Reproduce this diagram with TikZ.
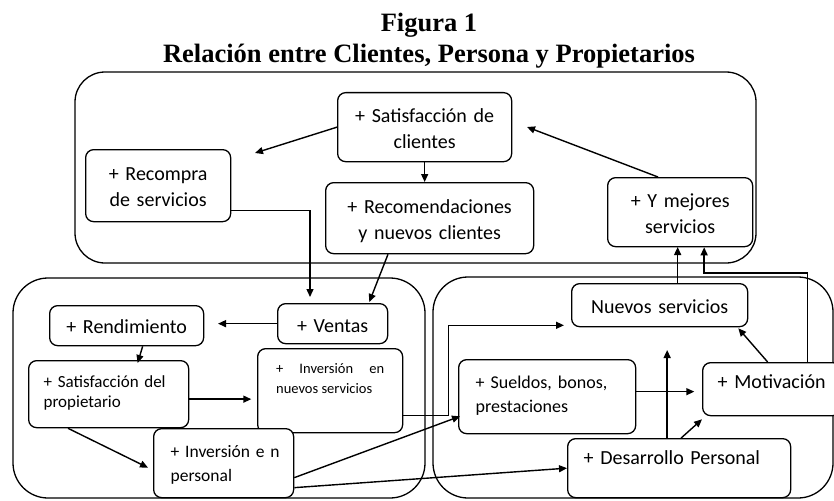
\documentclass[tikz,border=0pt]{standalone}
\usepackage{fontspec}
\setmainfont{Carlito}
\newfontfamily\titlefont{Liberation Serif}
\usetikzlibrary{arrows.meta,calc}
\begin{document}
\begin{tikzpicture}[x=1pt,y=-1pt,
  box/.style={draw, line width=1.3pt, rounded corners=8pt, fill=white, inner sep=0pt, anchor=north west},
  grp/.style={draw, line width=1.3pt},
  arr/.style={line width=1.4pt, -{Triangle[length=8pt,width=7pt]}},
  ttl/.style={font=\titlefont\bfseries\fontsize{26.5}{31}\selectfont, anchor=base, inner sep=0pt},
  fA/.style={font=\fontsize{20}{26}\selectfont},
]
\useasboundingbox (0,0) rectangle (834,500);
\clip (0,0) rectangle (834,500);

% title
\node[ttl] (t1) at (429,32) {Figura 1};
\node[ttl] (t2) at (429,63) {Relación entre Clientes, Persona y Propietarios};

% groups
\draw[grp, rounded corners=30pt] (75,72) rectangle (756,263);
\draw[grp, rounded corners=35pt] (13,278) rectangle (425,498);
\draw[grp, rounded corners=35pt] (433,277) rectangle (833,498);

% top boxes
\node[box, fA, align=center, text width=174pt, text height=30pt, text depth=39pt] (satc) at (337,92) {+ Satisfacción de\\clientes};
\node[box, fA, align=center, text width=145pt, text height=31pt, text depth=41pt] (recompra) at (85,149) {+ Recompra\\de servicios};
\node[box, fA, align=center, text width=208pt, text height=31pt, text depth=40pt] (recom) at (325,182) {+ Recomendaciones\\y nuevos clientes};
\node[box, fA, align=center, text width=145pt, text height=30pt, text depth=39pt] (mejores) at (607,177) {+ Y mejores\\servicios};

% bottom-left boxes
\node[box, fA, align=center, text width=154pt, text height=28pt, text depth=12pt] (rend) at (49,305) {+ Rendimiento};
\node[box, fA, align=center, text width=110pt, text height=29pt, text depth=11pt] (ventas) at (277,303) {+ Ventas};
\node[box, font=\fontsize{17}{20}\selectfont, align=left, minimum width=160pt, text width=130pt, text height=27pt, text depth=40pt] (satp) at (28,360) {+ Satisfacción del\\propietario};
\node[box, font=\fontsize{14.5}{19.5}\selectfont, align=justify, minimum width=145pt, text width=108pt, text height=25pt, text depth=59pt] (invns) at (257,348) {+ Inversión en nuevos servicios};
\node[box, font=\fontsize{17.5}{23.5}\selectfont, align=left, minimum width=140pt, text width=106pt, text height=29pt, text depth=40pt] (invp) at (153,428) {\mbox{+ Inversión e n}\\personal};

% bottom-right boxes
\node[box, fA, align=center, text width=176pt, text height=30pt, text depth=13pt] (nserv) at (571,283) {Nuevos servicios};
\node[box, font=\fontsize{18}{23.5}\selectfont, align=left, minimum width=177pt, text width=143pt, text height=29pt, text depth=45pt] (sueldos) at (458,359) {+ Sueldos, bonos,\\prestaciones};
\node[box, fA, align=center, text width=138pt, text height=26pt, text depth=27pt] (motiv) at (702,362) {+ Motivación};
\node[box, fA, align=left, minimum width=223pt, text width=191pt, text height=26pt, text depth=33pt] (desarr) at (567,438) {+ Desarrollo Personal};

% connectors, top
\coordinate (c1) at (255,153);
\coordinate (c2) at (527,127);
\draw[arr] (satc.west) -- (c1);
\draw[arr] (satc.south) -- (satc.south |- recom.north);
\draw[arr] ($(mejores.north west)+(51,0)$) -- (c2);
\draw[arr] ($(recompra.south east)+(0,-12)$) -| ($(ventas.north west)+(33,-6)$);
\draw[arr] ($(recom.south west)+(63,0)$) -- ($(ventas.north east)+(-19,-1)$);

% connectors, bottom-left
\draw[arr] (ventas.west) -- ++(-59,0);
\draw[arr] ($(rend.south)+(16,0)$) -- ($(satp.north)+(29,3)$);
\draw[arr] ($(satp.east)+(0,5)$) -- ++(62,0);
\draw[arr] ($(satp.south west)+(40,0)$) -- ($(invp.west)+(-5,4.5)$);

% connectors, crossing
\draw[arr] ($(invns.east)+(0,25)$) -- ++(45,0) |- ($(nserv.south west)+(-7,-2)$);
\draw[arr] ($(invp.east)+(0,14.5)$) -- ($(sueldos.south west)+(2,-18)$);
\draw[arr] ($(invp.east)+(0,24.5)$) -- (desarr.west);

% connectors, bottom-right
\draw[arr] ($(sueldos.east)+(0,-5)$) -- ++(58,0);
\draw[arr] ($(desarr.north)+(-12,0)$) -- ++(0,-88);
\draw[arr] ($(desarr.north)+(2,0)$) -- ($(motiv.south west)+(0,3)$);
\draw[arr] ($(motiv.north)+(-4,0)$) -- ($(nserv.south east)+(-10,1)$);
\draw[arr] ($(nserv.north)+(18,0)$) -- ++(0,-36);
\draw[arr] ($(motiv.north)+(36,0)$) -- ++(0,-89) -| ($(mejores.south)+(24,0)$);
\end{tikzpicture}
\end{document}
